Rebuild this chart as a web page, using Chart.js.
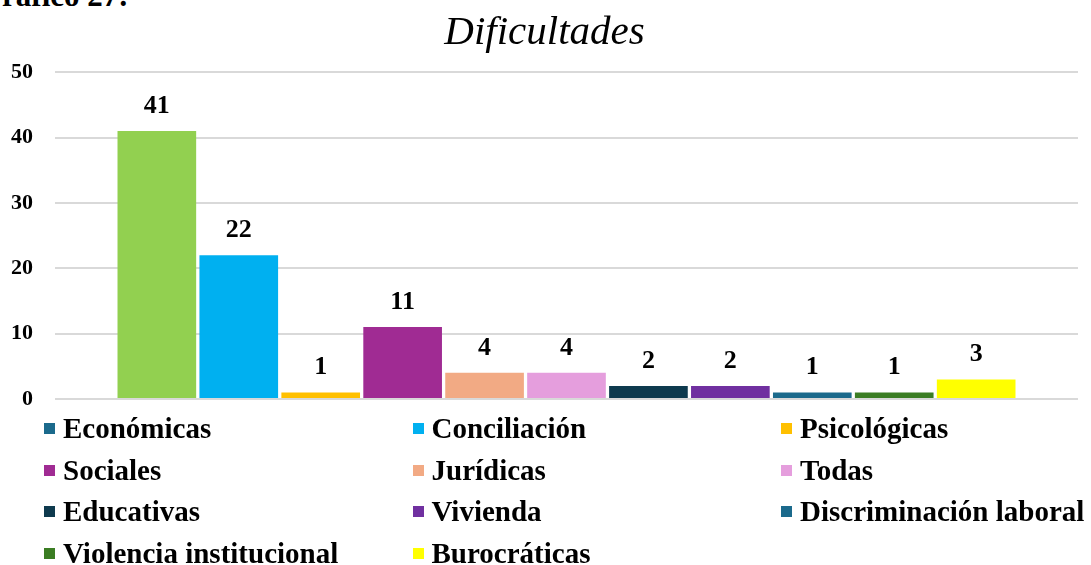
<!DOCTYPE html>
<html>
<head>
<meta charset="utf-8">
<script src="https://cdn.jsdelivr.net/npm/chart.js@4.4.1/dist/chart.umd.min.js"></script>
<style>
	html, body { margin: 0; padding: 0; background: #fff; }
	#wrap { position: relative; width: 1091px; height: 565px; overflow: hidden; font-family: 'Liberation Serif', 'Times New Roman', serif; }
	#chartCanvas { position: absolute; left: 0; top: 0; }
	#caption { position: absolute; left: -22px; top: -20px; font-size: 31px; font-weight: bold; line-height: 1; white-space: nowrap; }
	#legend { position: absolute; left: 44px; top: 408px; display: grid; grid-template-columns: 368.5px 368.5px 300px; grid-auto-rows: 41.5px; }
	.leg-item { display: flex; align-items: center; font-size: 29px; font-weight: bold; white-space: nowrap; }
	.leg-box { width: 11px; height: 11px; margin-right: 8px; flex: none; }
</style>
</head>
<body>
<div id="wrap">
	<div id="caption">Gráfico 27:</div>
	<canvas id="chartCanvas" width="1091" height="565"></canvas>
	<div id="legend"></div>
</div>
<script>
var categories = ['Económicas', 'Conciliación', 'Psicológicas', 'Sociales', 'Jurídicas', 'Todas', 'Educativas', 'Vivienda', 'Discriminación laboral', 'Violencia institucional', 'Burocráticas'];
var values = [41, 22, 1, 11, 4, 4, 2, 2, 1, 1, 3];
var barColors = ['#92D050', '#00B0F0', '#FFC000', '#A02B93', '#F2AA84', '#E59EDD', '#0E3A4E', '#7030A0', '#1B6A8C', '#3B7D23', '#FFFF00'];
// the legend swatch of the first item differs from its bar in the original
var legendColors = ['#1B6A8C', '#00B0F0', '#FFC000', '#A02B93', '#F2AA84', '#E59EDD', '#0E3A4E', '#7030A0', '#1B6A8C', '#3B7D23', '#FFFF00'];
var yTicks = [0, 10, 20, 30, 40, 50];

var serif = "'Liberation Serif', 'Times New Roman', serif";

var datasets = categories.map(function (name, i) {
	return {
		label: name,
		data: [values[i]],
		backgroundColor: barColors[i],
		borderWidth: 0,
		barPercentage: 0.96,
		categoryPercentage: 0.881
	};
});

var valueLabels = {
	id: 'valueLabels',
	afterDatasetsDraw: function (chart) {
		var ctx = chart.ctx;
		ctx.save();
		ctx.font = 'bold 26px ' + serif;
		ctx.fillStyle = '#000';
		ctx.textAlign = 'center';
		ctx.textBaseline = 'alphabetic';
		chart.data.datasets.forEach(function (ds, i) {
			var meta = chart.getDatasetMeta(i);
			meta.data.forEach(function (bar, j) {
				ctx.fillText(ds.data[j], bar.x, bar.y - 18);
			});
		});
		ctx.restore();
	}
};

new Chart(document.getElementById('chartCanvas').getContext('2d'), {
	type: 'bar',
	data: { labels: [''], datasets: datasets },
	options: {
		responsive: false,
		animation: false,
		layout: { padding: { left: 11, right: 13, top: 0, bottom: 158 } },
		scales: {
			x: {
				ticks: { display: false },
				grid: { display: false },
				border: { display: false }
			},
			y: {
				min: yTicks[0],
				max: yTicks[yTicks.length - 1],
				afterBuildTicks: function (scale) {
					scale.ticks = yTicks.map(function (v) { return { value: v }; });
				},
				afterFit: function (scale) {
					scale.width = 44;
				},
				ticks: { color: '#000', padding: 22, font: { family: serif, size: 22, weight: 'bold' } },
				grid: { color: '#D9D9D9', lineWidth: 2, drawTicks: false },
				border: { display: false }
			}
		},
		plugins: {
			legend: { display: false },
			tooltip: { enabled: false },
			title: {
				display: true,
				text: 'Dificultades',
				color: '#000',
				font: { family: serif, size: 41, style: 'italic', weight: 'normal', lineHeight: 1.2 },
				padding: { top: 9, bottom: 14 }
			}
		}
	},
	plugins: [valueLabels]
});

var legend = document.getElementById('legend');
categories.forEach(function (name, i) {
	var item = document.createElement('div');
	item.className = 'leg-item';
	var box = document.createElement('span');
	box.className = 'leg-box';
	box.style.background = legendColors[i];
	var text = document.createElement('span');
	text.textContent = name;
	item.appendChild(box);
	item.appendChild(text);
	legend.appendChild(item);
});
</script>
</body>
</html>
